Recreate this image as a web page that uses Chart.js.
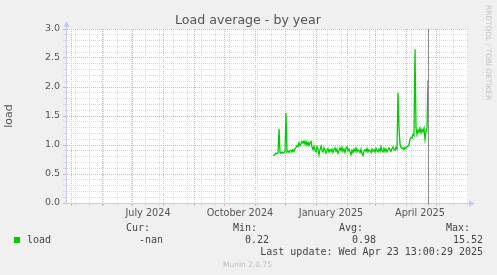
<!DOCTYPE html>
<html lang="en">
<head>
<meta charset="UTF-8">
<title>Load average - by year</title>
<script src="https://cdn.jsdelivr.net/npm/chart.js"></script>
<style>
    html, body { margin: 0; padding: 0; background: #f0f0f0; }
    canvas { display: block; }
</style>
</head>
<body>
<canvas id="loadChart" width="497" height="275"></canvas>
<script>
// daily load averages (one value per day)
const seriesStart = '2024-11-19';
const loadValues = [
    0.82, 0.82, 0.84, 0.86, 0.85, 0.86, 1.28, 0.87, 0.86, 0.88,
    0.86, 0.87, 0.89, 1.55, 0.88, 0.90, 0.87, 0.90, 0.91, 0.88,
    0.92, 0.89, 0.94, 0.96, 0.99, 0.97, 1.04, 0.99, 1.02, 1.06,
    1.03, 1.07, 1.01, 1.06, 1.00, 1.05, 0.99, 1.04, 1.06, 0.97,
    0.92, 0.98, 0.91, 0.88, 0.97, 0.93, 0.83, 0.92, 0.98, 0.91,
    0.88, 0.95, 0.91, 0.86, 0.92, 0.94, 0.88, 0.92, 0.89, 0.93,
    0.87, 0.92, 0.95, 0.89, 0.93, 0.86, 0.90, 0.95, 0.90, 0.96,
    0.89, 0.93, 0.87, 0.94, 0.97, 0.90, 0.93, 0.88, 0.83, 0.91,
    0.87, 0.93, 0.89, 0.95, 0.88, 0.92, 0.90, 0.87, 0.93, 0.85,
    0.82, 0.90, 0.92, 0.89, 0.94, 0.88, 0.92, 0.90, 0.87, 0.93,
    0.89, 0.92, 0.88, 0.94, 0.90, 0.88, 0.93, 0.89, 0.97, 0.90,
    0.88, 0.94, 0.89, 0.93, 0.88, 0.92, 0.95, 0.91, 0.89, 0.94,
    0.97, 0.92, 0.91, 0.96, 0.93, 1.90, 1.30, 1.02, 0.96, 0.94,
    0.95, 0.92, 0.96, 0.94, 0.97, 0.98, 1.00, 1.10, 1.13, 1.12,
    1.18, 1.16, 2.65, 1.30, 1.18, 1.26, 1.22, 1.29, 1.21, 1.27,
    1.23, 1.29, 1.10, 1.22, 1.30, 2.11
];

const axisStart = '2024-04-26';
const axisEnd = '2025-06-02';
const lastUpdateDay = '2025-04-23';
const monthLines = ['2024-05-01', '2024-06-01', '2024-07-01', '2024-08-01', '2024-09-01',
    '2024-10-01', '2024-11-01', '2024-12-01', '2025-01-01', '2025-02-01', '2025-03-01',
    '2025-04-01', '2025-05-01'];
const monthLabels = ['July 2024', 'October 2024', 'January 2025', 'April 2025'];
const monthLabelDates = ['2024-07-17', '2024-10-17', '2025-01-16', '2025-04-15'];
const firstMinorLine = '2024-05-05';
const yMax = 3.0;

const statNames = ['Cur:', 'Min:', 'Avg:', 'Max:'];
const statValues = ['-nan', '0.22', '0.98', '15.52'];
const lastUpdateText = 'Last update: Wed Apr 23 13:00:29 2025';

const GREEN = '#00cc00';
const RED_GRID = 'rgb(240,172,172)';
const GREY_GRID = 'rgb(220,220,220)';
const AXIS = 'rgb(200,200,240)';
const TEXT = '#444';

function day(s) {
    const p = s.split('-').map(Number);
    return Date.UTC(p[0], p[1] - 1, p[2]) / 86400000;
}

const points = loadValues.map((v, i) => ({ x: day(seriesStart) + i, y: v }));

// x ticks: month lines (red), every other sunday (grey), label positions (no line)
const tickKind = {};
const tickText = {};
let d = day(firstMinorLine);
while (d < day(axisEnd)) { tickKind[d] = 'minor'; d += 14; }
monthLines.forEach(m => { tickKind[day(m)] = 'month'; });
monthLabelDates.forEach((m, i) => { tickKind[day(m)] = 'label'; tickText[day(m)] = monthLabels[i]; });
const xTickValues = Object.keys(tickKind).map(Number).sort((a, b) => a - b);

function isMajorY(v) { return Math.round(v * 10) % 5 === 0; }

function xGridColor(c) {
    const k = tickKind[c.tick.value];
    return k === 'month' ? RED_GRID : k === 'minor' ? GREY_GRID : 'rgba(0,0,0,0)';
}

const chrome = {
    id: 'chrome',
    beforeDraw(chart) {
        const { ctx, chartArea: a } = chart;
        ctx.save();
        ctx.fillStyle = '#f0f0f0';
        ctx.fillRect(0, 0, chart.width, chart.height);
        ctx.fillStyle = '#ffffff';
        ctx.fillRect(a.left, a.top, a.right - a.left, a.bottom - a.top);
        ctx.restore();
    },
    afterDatasetsDraw(chart) {
        const { ctx, chartArea: a } = chart;
        const xs = chart.scales.x;
        ctx.save();
        // last update line
        const nx = Math.round(xs.getPixelForValue(day(lastUpdateDay))) + 0.5;
        ctx.strokeStyle = '#8c8c8c';
        ctx.lineWidth = 1;
        ctx.beginPath();
        ctx.moveTo(nx, a.top);
        ctx.lineTo(nx, a.bottom + 2);
        ctx.stroke();

        // axis arrows
        ctx.fillStyle = 'rgb(190,200,250)';
        ctx.beginPath();
        ctx.moveTo(a.left + 0.5, a.top - 8);
        ctx.lineTo(a.left - 2.5, a.top - 2);
        ctx.lineTo(a.left + 3.5, a.top - 2);
        ctx.fill();
        ctx.strokeStyle = AXIS;
        ctx.beginPath();
        ctx.moveTo(a.left + 0.5, a.top - 2);
        ctx.lineTo(a.left + 0.5, a.top);
        ctx.stroke();
        ctx.beginPath();
        ctx.moveTo(a.right + 7, a.bottom + 0.5);
        ctx.lineTo(a.right + 1, a.bottom - 2.5);
        ctx.lineTo(a.right + 1, a.bottom + 3.5);
        ctx.fill();

        // title
        ctx.fillStyle = '#555';
        ctx.font = '12.6px "DejaVu Sans"';
        ctx.textAlign = 'center';
        ctx.textBaseline = 'alphabetic';
        ctx.fillText('Load average - by year', 248, 24);

        // rrdtool credit on the right
        ctx.save();
        ctx.translate(488, 5);
        ctx.rotate(Math.PI / 2);
        ctx.fillStyle = '#c4c4c4';
        ctx.font = '7.4px "DejaVu Sans"';
        ctx.textAlign = 'left';
        ctx.textBaseline = 'middle';
        ctx.fillText('RRDTOOL / TOBI OETIKER', 0, 0);
        ctx.restore();

        // legend block
        ctx.font = '10px "DejaVu Sans Mono"';
        ctx.fillStyle = TEXT;
        ctx.textAlign = 'right';
        const headRight = [150, 257, 363, 470];
        const valRight = [163, 269, 376, 483];
        statNames.forEach((s, i) => ctx.fillText(s, headRight[i], 231));
        statValues.forEach((s, i) => ctx.fillText(s, valRight[i], 243));
        ctx.fillText(lastUpdateText, 483, 255);
        ctx.textAlign = 'left';
        ctx.fillText(chart.data.datasets[0].label, 27, 243);
        ctx.fillStyle = GREEN;
        ctx.fillRect(14, 237, 6, 6);

        ctx.fillStyle = '#bdbdbd';
        ctx.font = '7.5px "DejaVu Sans"';
        ctx.textAlign = 'center';
        ctx.fillText('Munin 2.0.75', 247.5, 267);
        ctx.restore();
    }
};

new Chart(document.getElementById('loadChart'), {
    type: 'line',
    data: {
        datasets: [{
            label: 'load',
            data: points,
            borderColor: GREEN,
            borderWidth: 1.3,
            pointRadius: 0,
            tension: 0,
            fill: false
        }]
    },
    options: {
        responsive: false,
        animation: false,
        devicePixelRatio: 1,
        layout: { padding: { left: 0, top: 29, right: 29, bottom: 0 } },
        plugins: { legend: { display: false }, tooltip: { enabled: false }, title: { display: false } },
        scales: {
            x: {
                type: 'linear',
                min: day(axisStart),
                max: day(axisEnd),
                afterBuildTicks: s => { s.ticks = xTickValues.map(v => ({ value: v })); },
                afterFit: s => { s.height = 72; },
                ticks: {
                    autoSkip: false,
                    maxRotation: 0,
                    padding: 2,
                    color: '#555',
                    font: { family: 'DejaVu Sans', size: 9.7 },
                    callback: v => tickText[v] || ''
                },
                grid: { tickLength: 3, color: xGridColor, tickColor: xGridColor },
                border: { color: AXIS, width: 1, dash: [1, 1] }
            },
            y: {
                min: 0,
                max: yMax,
                afterBuildTicks: s => {
                    s.ticks = [];
                    for (let k = 0; k <= yMax * 10; k++) s.ticks.push({ value: k / 10 });
                },
                afterFit: s => { s.width = 66; },
                ticks: {
                    autoSkip: false,
                    padding: 3,
                    color: '#555',
                    font: { family: 'DejaVu Sans', size: 9.5 },
                    callback: v => isMajorY(v) ? v.toFixed(1) : ''
                },
                grid: {
                    tickLength: 3,
                    color: c => isMajorY(c.tick.value) ? RED_GRID : GREY_GRID,
                    tickColor: c => isMajorY(c.tick.value) ? RED_GRID : GREY_GRID
                },
                border: { color: AXIS, width: 1, dash: [1, 1] },
                title: {
                    display: true,
                    text: 'load',
                    color: '#555',
                    font: { family: 'DejaVu Sans', size: 11 },
                    padding: { top: 2.5, bottom: 0 }
                }
            }
        }
    },
    plugins: [chrome]
});
</script>
</body>
</html>
